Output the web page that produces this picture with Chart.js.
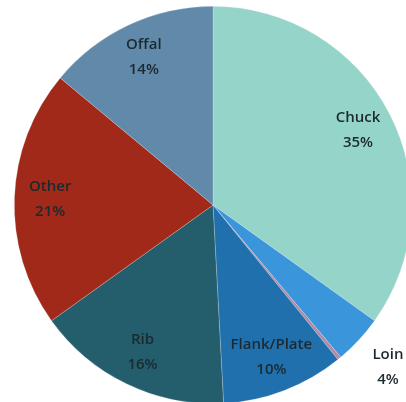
<!DOCTYPE html>
<html>
<head>
<meta charset="utf-8">
<script src="https://cdn.jsdelivr.net/npm/chart.js@4/dist/chart.umd.min.js"></script>
<style>
  html, body { margin: 0; padding: 0; background: #ffffff; overflow: hidden; }
  #wrap { position: absolute; left: 0; top: 0; width: 426px; height: 412px; }
</style>
</head>
<body>
<div id="wrap"><canvas id="c" width="426" height="412"></canvas></div>
<script>
const categories = ['Chuck', 'Loin', '', 'Flank/Plate', 'Rib', 'Other', 'Offal'];
const shares = [35, 4, 0.3, 10, 16, 21, 14];
const shareLabels = ['35%', '4%', '', '10%', '16%', '21%', '14%'];
const sliceColors = ['#95d4c9', '#3b95db', '#b28aa6', '#2070ae', '#245d6c', '#a0291a', '#6189a9'];

const labelPlugin = {
  id: 'sliceLabels',
  afterDatasetsDraw(chart) {
    const ctx = chart.ctx;
    const meta = chart.getDatasetMeta(0);
    ctx.save();
    ctx.font = '600 15px "Open Sans", sans-serif';
    ctx.fillStyle = '#1c2a30';
    ctx.textAlign = 'center';
    ctx.textBaseline = 'middle';
    meta.data.forEach((arc, i) => {
      if (!categories[i]) return;
      const p = arc.getProps(['x', 'y', 'startAngle', 'endAngle', 'outerRadius'], true);
      const mid = (p.startAngle + p.endAngle) / 2;
      const frac = shares[i] < 5 ? 1.2 : 0.82;
      const r = p.outerRadius * frac;
      const cx = p.x + Math.cos(mid) * r;
      const cy = p.y + Math.sin(mid) * r;
      ctx.fillText(categories[i], cx, cy - 12.5);
      ctx.fillText(shareLabels[i], cx, cy + 12.5);
    });
    ctx.restore();
  }
};

new Chart(document.getElementById('c'), {
  type: 'pie',
  data: {
    labels: categories,
    datasets: [{
      data: shares,
      backgroundColor: sliceColors,
      borderColor: 'rgba(255,255,255,0.35)',
      borderWidth: 0.6
    }]
  },
  options: {
    responsive: false,
    animation: false,
    layout: { padding: { top: 6, bottom: 8, left: 0, right: 0 } },
    plugins: {
      legend: { display: false },
      tooltip: { enabled: false }
    }
  },
  plugins: [labelPlugin]
});
</script>
</body>
</html>
